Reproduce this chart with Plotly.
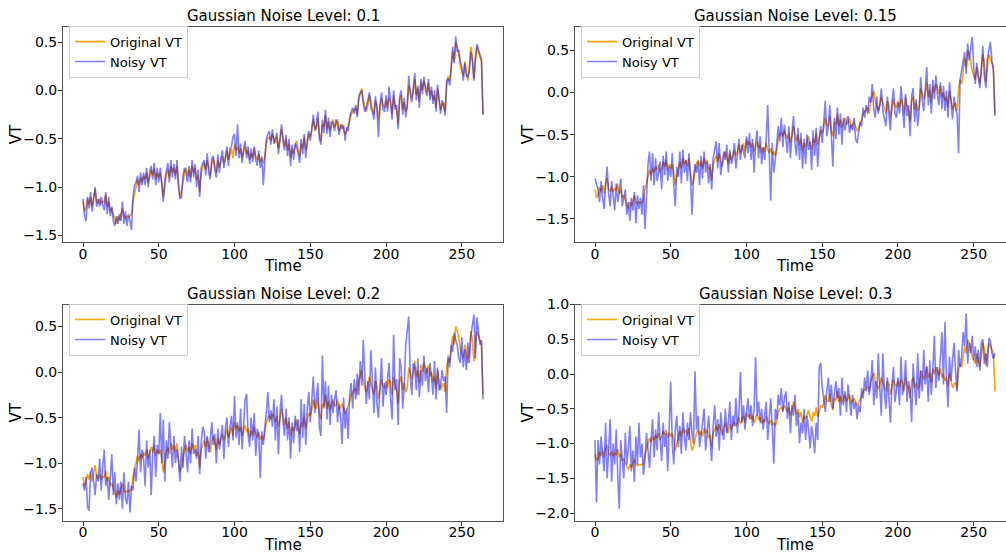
import plotly.graph_objects as go

# ---------------- data ----------------
time = list(range(265))

original_vt = [
    -1.15, -1.25, -1.22, -1.12, -1.18, -1.10, -1.20, -1.08, -1.02, -1.15,
    -1.17, -1.12, -1.18, -1.14, -1.16, -1.08, -1.20, -1.15, -1.25, -1.22,
    -1.28, -1.32, -1.38, -1.30, -1.35, -1.28, -1.22, -1.30, -1.32, -1.30,
    -1.31, -1.30, -1.28, -1.15, -1.05, -1.00, -0.92, -0.98, -0.90, -0.95,
    -0.88, -0.92, -0.85, -0.95, -0.90, -0.82, -0.88, -0.80, -0.92, -0.85,
    -0.90, -0.85, -0.95, -1.10, -1.00, -0.88, -0.82, -0.90, -0.78, -0.85,
    -0.80, -0.88, -0.78, -0.95, -1.10, -1.05, -0.92, -0.85, -0.80, -0.88,
    -0.82, -0.90, -0.78, -0.85, -0.80, -0.92, -0.88, -1.05, -0.85, -0.80,
    -0.75, -0.82, -0.72, -0.80, -0.88, -0.76, -0.70, -0.78, -0.85, -0.72,
    -0.80, -0.74, -0.68, -0.75, -0.70, -0.62, -0.72, -0.66, -0.60, -0.70,
    -0.55, -0.62, -0.58, -0.65, -0.60, -0.70, -0.64, -0.58, -0.66, -0.62,
    -0.72, -0.65, -0.70, -0.60, -0.68, -0.72, -0.66, -0.74, -0.70, -0.75,
    -0.68, -0.55, -0.50, -0.48, -0.52, -0.45, -0.50, -0.55, -0.48, -0.60,
    -0.52, -0.40, -0.48, -0.58, -0.50, -0.62, -0.55, -0.70, -0.60, -0.65,
    -0.58, -0.52, -0.62, -0.68, -0.55, -0.60, -0.48, -0.62, -0.55, -0.45,
    -0.48, -0.42, -0.30, -0.38, -0.40, -0.28, -0.45, -0.52, -0.35, -0.38,
    -0.25, -0.40, -0.32, -0.42, -0.35, -0.30, -0.38, -0.36, -0.30, -0.42,
    -0.38, -0.35, -0.40, -0.46, -0.42, -0.38, -0.32, -0.25, -0.22, -0.20,
    -0.18, -0.25, -0.10, -0.05, 0.02, -0.10, -0.18, -0.22, -0.15, -0.05,
    -0.12, -0.20, -0.25, -0.10, -0.15, -0.30, -0.20, -0.08, -0.15, -0.18,
    -0.10, -0.18, -0.08, -0.12, -0.25, -0.05, -0.15, -0.20, -0.35, -0.10,
    -0.05, -0.20, -0.12, -0.22, -0.18, 0.05, 0.00, -0.08, -0.02, 0.12,
    -0.05, 0.02, -0.12, 0.08, 0.00, 0.10, 0.05, -0.02, 0.08, -0.05,
    0.00, -0.10, -0.05, -0.18, 0.02, -0.08, -0.20, -0.15, -0.12, -0.22,
    0.05, 0.15, 0.10, 0.25, 0.40, 0.30, 0.50, 0.45, 0.38, 0.25,
    0.20, 0.15, 0.30, 0.20, 0.10, 0.25, 0.45, 0.35, 0.12, 0.30,
    0.45, 0.40, 0.35, 0.30, -0.25,
]

noisy_vt_01 = [
    -1.12, -1.30, -1.35, -1.10, -1.22, -1.05, -1.25, -1.12, -1.00, -1.20,
    -1.12, -1.20, -1.10, -1.18, -1.24, -1.05, -1.28, -1.10, -1.30, -1.20,
    -1.35, -1.40, -1.30, -1.38, -1.28, -1.35, -1.15, -1.38, -1.25, -1.40,
    -1.28, -1.35, -1.44, -1.10, -0.98, -0.95, -0.88, -1.05, -0.85, -0.98,
    -0.85, -0.98, -0.80, -1.00, -0.85, -0.78, -0.92, -0.75, -0.98, -0.80,
    -0.95, -0.80, -1.00, -1.15, -0.92, -0.85, -0.75, -0.95, -0.72, -0.90,
    -0.76, -0.92, -0.72, -1.00, -1.12, -1.10, -0.88, -0.80, -0.85, -0.95,
    -0.78, -0.95, -0.72, -0.90, -0.76, -1.00, -0.82, -1.10, -0.80, -0.75,
    -0.72, -0.88, -0.65, -0.85, -0.92, -0.70, -0.68, -0.82, -0.90, -0.66,
    -0.85, -0.70, -0.62, -0.80, -0.66, -0.58, -0.78, -0.60, -0.58, -0.48,
    -0.45, -0.68, -0.35, -0.70, -0.55, -0.75, -0.60, -0.52, -0.70, -0.58,
    -0.76, -0.60, -0.74, -0.58, -0.72, -0.78, -0.62, -0.80, -0.68, -0.98,
    -0.72, -0.50, -0.45, -0.42, -0.56, -0.40, -0.55, -0.50, -0.44, -0.66,
    -0.48, -0.35, -0.52, -0.62, -0.46, -0.68, -0.50, -0.78, -0.56, -0.72,
    -0.55, -0.58, -0.65, -0.75, -0.50, -0.66, -0.45, -0.70, -0.52, -0.42,
    -0.52, -0.38, -0.25, -0.42, -0.36, -0.22, -0.50, -0.56, -0.30, -0.44,
    -0.20, -0.45, -0.28, -0.48, -0.32, -0.34, -0.42, -0.30, -0.34, -0.46,
    -0.35, -0.40, -0.36, -0.52, -0.38, -0.42, -0.28, -0.22, -0.18, -0.24,
    -0.15, -0.28, -0.06, -0.02, 0.00, -0.14, -0.22, -0.18, -0.10, -0.02,
    -0.18, -0.22, -0.30, -0.06, -0.20, -0.48, -0.15, -0.02, -0.20, -0.22,
    -0.05, -0.22, 0.04, -0.15, -0.30, 0.00, -0.20, -0.15, -0.40, -0.06,
    0.00, -0.25, -0.08, -0.28, -0.15, 0.15, -0.04, -0.12, 0.02, 0.18,
    -0.10, 0.05, -0.18, 0.12, -0.04, 0.14, 0.00, -0.06, 0.12, -0.10,
    0.04, -0.14, 0.00, -0.22, 0.06, -0.12, -0.24, -0.10, -0.16, -0.26,
    0.10, 0.12, 0.05, 0.22, 0.45, 0.28, 0.56, 0.40, 0.42, 0.30,
    0.25, 0.10, 0.28, 0.15, 0.14, 0.20, 0.40, 0.30, 0.10, 0.34,
    0.48, 0.42, 0.38, 0.32, -0.25,
]

noisy_vt_015 = [
    -1.02, -1.08, -1.15, -1.30, -1.05, -1.25, -1.38, -1.10, -0.88, -1.20,
    -1.35, -1.05, -1.22, -1.40, -1.08, -1.30, -1.18, -1.02, -1.35, -1.25,
    -1.15, -1.45, -1.30, -1.52, -1.25, -1.40, -1.18, -1.55, -1.22, -1.38,
    -1.25, -1.45, -1.10, -1.62, -1.20, -0.85, -0.70, -1.05, -0.72, -1.10,
    -0.78, -1.05, -0.95, -0.82, -1.15, -0.75, -0.98, -0.70, -1.05, -0.88,
    -1.00, -0.72, -1.10, -1.35, -0.88, -1.00, -0.70, -1.08, -0.68, -0.95,
    -0.80, -1.05, -0.72, -1.00, -1.45, -1.02, -0.85, -0.95, -0.82, -1.10,
    -0.75, -1.02, -0.70, -0.95, -0.82, -1.08, -0.85, -1.15, -0.78, -0.65,
    -0.58, -0.90, -0.60, -0.98, -0.85, -0.70, -0.80, -0.62, -0.95, -0.68,
    -0.85, -0.78, -0.60, -0.90, -0.75, -0.55, -0.80, -0.62, -0.70, -0.78,
    -0.52, -0.72, -0.48, -0.80, -0.55, -0.95, -0.60, -0.45, -0.78, -0.52,
    -0.85, -0.65, -0.80, -0.55, -0.15, -0.90, -1.28, -0.60, -0.95, -0.80,
    -0.62, -0.40, -0.58, -0.30, -0.65, -0.38, -0.55, -0.72, -0.40, -0.78,
    -0.50, -0.28, -0.60, -0.75, -0.42, -0.80, -0.48, -0.90, -0.55, -0.85,
    -0.50, -0.68, -0.58, -0.92, -0.45, -0.75, -0.42, -0.88, -0.55, -0.40,
    -0.60, -0.35, -0.10, -0.52, -0.40, -0.15, -0.62, -0.88, -0.30, -0.55,
    -0.18, -0.50, -0.25, -0.62, -0.30, -0.45, -0.35, -0.28, -0.48, -0.38,
    -0.45, -0.30, -0.55, -0.60, -0.48, -0.35, -0.40, -0.18, -0.30, -0.15,
    -0.25, -0.05, -0.12, 0.10, -0.20, -0.30, -0.05, -0.25, -0.15, 0.05,
    -0.22, -0.30, -0.40, -0.05, -0.28, -0.45, -0.12, 0.05, -0.25, -0.30,
    -0.12, -0.25, 0.08, -0.18, -0.42, -0.02, -0.28, -0.15, -0.52, -0.05,
    0.05, -0.35, -0.08, -0.40, -0.20, 0.18, -0.10, -0.22, 0.00, 0.30,
    -0.15, 0.10, -0.25, 0.15, -0.08, 0.20, -0.02, -0.15, 0.12, -0.20,
    0.08, -0.22, 0.02, -0.30, 0.12, -0.15, -0.32, -0.05, -0.20, -0.25,
    -0.72, 0.15, 0.25, 0.35, 0.48, 0.22, 0.58, 0.38, 0.52, 0.66,
    0.30, 0.10, 0.35, 0.15, 0.05, 0.28, 0.55, 0.20, 0.05, 0.40,
    0.52, 0.60, 0.38, 0.25, -0.28,
]

noisy_vt_02 = [
    -1.22, -1.30, -1.15, -1.48, -1.52, -1.10, -1.05, -1.25, -1.35, -1.12,
    -1.20, -0.95, -1.30, -1.05, -0.85, -1.25, -1.15, -1.40, -1.10, -0.90,
    -1.35, -1.10, -1.45, -1.22, -1.40, -1.20, -1.50, -1.10, -1.38, -1.45,
    -1.20, -1.54, -1.25, -1.30, -1.05, -1.20, -0.95, -0.63, -1.10, -0.85,
    -0.95, -1.25, -0.75, -1.05, -0.85, -1.35, -0.90, -0.70, -1.15, -0.80,
    -0.90, -0.45, -1.00, -0.52, -1.20, -0.75, -0.95, -0.55, -0.80, -1.05,
    -0.70, -1.00, -0.85, -0.98, -1.20, -0.82, -1.05, -0.70, -0.88, -1.10,
    -0.75, -1.00, -0.62, -0.90, -0.85, -0.95, -0.70, -1.12, -0.78, -0.60,
    -0.65, -0.95, -0.70, -0.88, -0.75, -0.55, -0.80, -0.68, -1.00, -0.62,
    -0.85, -0.70, -0.58, -0.95, -0.62, -0.50, -0.82, -0.60, -0.48, -0.75,
    -0.26, -0.72, -0.55, -0.80, -0.40, -0.85, -0.60, -0.30, -0.24, -0.70,
    -0.82, -0.50, -0.75, -0.45, -0.92, -0.62, -0.70, -1.16, -0.65, -0.80,
    -0.60, -0.45, -0.22, -0.55, -0.42, -0.60, -0.30, -0.75, -0.38, -0.90,
    -0.45, -0.25, -0.55, -0.70, -0.40, -0.75, -0.50, -0.95, -0.55, -0.78,
    -0.48, -0.65, -0.52, -0.88, -0.30, -0.72, -0.35, -0.80, -0.40, -0.22,
    -0.55, -0.30, -0.05, -0.45, -0.30, -0.12, -0.60, -0.70, 0.18, -0.40,
    -0.10, -0.52, -0.15, -0.58, -0.25, -0.45, -0.30, -0.20, -0.55, -0.35,
    -0.50, -0.79, -0.28, -0.62, -0.40, -0.73, -0.25, -0.12, -0.40, -0.08,
    -0.30, -0.02, -0.25, 0.12, -0.15, 0.35, -0.05, -0.35, -0.10, -0.30,
    0.24, -0.18, -0.45, 0.05, -0.35, -0.50, -0.10, 0.15, -0.38, -0.12,
    -0.25, -0.05, 0.10, -0.30, -0.52, 0.41, -0.20, -0.08, -0.58, 0.15,
    0.05, -0.40, -0.15, 0.30, 0.45, 0.61, -0.05, -0.25, 0.10, 0.05,
    -0.20, 0.15, -0.28, 0.02, -0.15, 0.18, -0.10, 0.05, -0.22, 0.10,
    -0.05, -0.25, 0.12, -0.30, 0.05, -0.20, -0.15, 0.02, -0.10, -0.05,
    -0.45, 0.18, 0.05, 0.30, 0.22, 0.43, 0.35, 0.30, 0.15, 0.10,
    0.38, 0.05, 0.25, 0.02, 0.32, 0.10, 0.40, 0.55, 0.63, 0.15,
    0.60, 0.45, 0.30, 0.35, -0.30,
]

noisy_vt_03 = [
    -0.95, -1.85, -0.95, -1.30, -0.90, -1.20, -1.40, -0.70, -1.50, -1.10,
    -0.65, -1.55, -1.00, -1.30, -0.80, -1.45, -1.94, -0.95, -1.20, -1.50,
    -0.85, -1.30, -1.05, -0.75, -1.40, -1.10, -1.55, -0.90, -1.30, -0.70,
    -1.20, -1.00, -1.45, -1.25, -0.85, -1.15, -1.35, -0.95, -0.65, -1.20,
    -0.80, -1.10, -0.55, -0.95, -1.25, -0.70, -1.05, -0.85, -1.40, -0.75,
    -0.11, -1.00, -1.30, -0.80, -0.60, -1.05, -0.75, -1.15, -0.55, -0.90,
    -1.10, -0.70, -0.95, -0.55, -0.85, -1.00, 0.04, -0.80, -0.60, -1.05,
    -0.90, -0.70, -0.50, -1.10, -0.85, -0.60, -0.95, -1.25, -0.75, -0.45,
    -0.90, -0.65, -1.10, -0.55, -0.80, -0.95, -0.50, -0.85, -0.70, -0.40,
    -0.95, -0.60, -0.75, -0.35, -0.85, -0.55, 0.03, -0.70, -0.45, -0.80,
    -0.55, -0.35, -0.65, -0.45, -0.75, -0.50, 0.24, -0.60, -0.40, -0.70,
    -0.50, -0.80, -0.60, -0.40, -0.95, -0.55, -0.35, -0.75, -1.29, -0.50,
    -0.65, -0.30, -0.45, -0.20, -0.55, -0.35, -0.25, -0.65, -0.40, -0.85,
    -0.45, -0.60, -0.30, -0.75, -0.55, -1.00, -0.70, -0.85, -0.50, -0.95,
    -0.60, -0.80, -1.07, -0.75, -0.90, -1.14, -0.70, -0.95, 0.10, 0.16,
    -0.20, -0.35, -0.55, -0.25, -0.05, -0.40, -0.15, -0.50, -0.25, -0.10,
    -0.35, -0.20, -0.60, -0.05, -0.45, -0.25, -0.55, -0.15, -0.35, -0.60,
    -0.30, -0.50, -0.40, -0.65, -0.45, -0.55, -0.20, -0.35, -0.05, -0.25,
    0.05, -0.30, -0.15, 0.20, -0.45, -0.10, -0.35, 0.30, -0.20, -0.60,
    0.30, -0.25, -0.50, -0.05, -0.35, -0.70, -0.15, 0.10, -0.40, -0.20,
    -0.05, -0.45, 0.25, -0.30, -0.15, 0.20, -0.40, -0.10, -0.25, -0.69,
    0.15, -0.20, -0.45, 0.30, -0.35, 0.05, -0.25, 0.35, -0.15, 0.10,
    -0.40, 0.20, -0.30, 0.05, 0.55, -0.20, 0.10, -0.10, 0.30, 0.60,
    -0.15, 0.75, -0.05, -0.48, 0.25, -0.10, 0.20, 0.45, 0.05, -0.25,
    0.35, 0.10, 0.25, 0.60, 0.40, 0.87, 0.15, 0.45, 0.30, 0.55,
    0.20, 0.40, 0.10, 0.35, 0.05, 0.45, 0.50, 0.15, 0.30, 0.10,
    0.52, 0.48, 0.30, 0.22, 0.30,
]

noise_levels = ["0.1", "0.15", "0.2", "0.3"]
noisy_series = [noisy_vt_01, noisy_vt_015, noisy_vt_02, noisy_vt_03]
x_ticks = [0, 50, 100, 150, 200, 250]
series_names = ["Original VT", "Noisy VT"]

# ---------------- layout helpers ----------------
W, H = 1006, 558
FONT = "DejaVu Sans"

def fx(p):
    return p / W

def fy(p):
    return 1 - p / H

# pixel boxes: (left, right, top, bottom), axis ranges
panels = [
    dict(box=(63, 503, 19, 238), xr=[-13.2, 277.2], yr=[-1.564, 0.659], right_line=True, cx=283),
    dict(box=(575, 1006, 19, 238), xr=[-13.2, 271.3], yr=[-1.77, 0.78], right_line=False, cx=795),
    dict(box=(63, 503, 302, 522), xr=[-13.2, 277.2], yr=[-1.63, 0.74], right_line=True, cx=283),
    dict(box=(575, 1006, 302, 522), xr=[-13.2, 271.3], yr=[-2.11, 1.0], right_line=False, cx=795),
]

fig = go.Figure()
annotations = []
layout = dict(
    width=W, height=H,
    margin=dict(l=0, r=0, t=0, b=0, pad=0),
    paper_bgcolor="white", plot_bgcolor="white",
    font=dict(family=FONT, color="black"),
)

for i, (p, noisy, lvl) in enumerate(zip(panels, noisy_series, noise_levels)):
    n = i + 1
    xa = "x" if n == 1 else f"x{n}"
    ya = "y" if n == 1 else f"y{n}"
    lg = "legend" if n == 1 else f"legend{n}"
    l, r, t, b = p["box"]

    fig.add_trace(go.Scatter(x=time, y=original_vt, mode="lines", name=series_names[0],
                             line=dict(color="#FFA500", width=1.6), xaxis=xa, yaxis=ya,
                             legend=lg, hoverinfo="skip"))
    fig.add_trace(go.Scatter(x=time, y=noisy, mode="lines", name=series_names[1],
                             line=dict(color="rgba(0,0,255,0.5)", width=1.6), xaxis=xa, yaxis=ya,
                             legend=lg, hoverinfo="skip"))

    axkey_x = "xaxis" if n == 1 else f"xaxis{n}"
    axkey_y = "yaxis" if n == 1 else f"yaxis{n}"
    layout[axkey_x] = dict(
        domain=[fx(l), fx(r)], range=p["xr"], anchor=ya,
        tickvals=x_ticks, ticks="outside", ticklen=4, tickwidth=1, tickcolor="#333",
        ticklabelstandoff=-5,
        showline=True, linecolor="#555", linewidth=1, mirror=True,
        showgrid=False, zeroline=False,
        tickfont=dict(family=FONT, size=14, color="black"),
    )
    layout[axkey_y] = dict(
        domain=[fy(b), fy(t)], range=p["yr"], anchor=xa,
        dtick=0.5, tick0=0, tickformat=".1f", ticks="outside", ticklen=4, tickwidth=1, tickcolor="#333",
        ticklabelstandoff=-2,
        showline=True, linecolor="#555", linewidth=1, mirror=p["right_line"],
        showgrid=False, zeroline=False,
        tickfont=dict(family=FONT, size=14, color="black"),
    )
    layout[lg] = dict(
        x=fx(l + 6), y=fy(t - 1), xanchor="left", yanchor="top",
        bgcolor="rgba(255,255,255,0.85)", bordercolor="#cccccc", borderwidth=1,
        font=dict(family=FONT, size=13, color="black"),
        itemwidth=30, tracegroupgap=0,
    )
    # subplot title
    annotations.append(dict(text=f"Gaussian Noise Level: {lvl}", x=fx(p["cx"]), y=fy(t),
                            xref="paper", yref="paper", xanchor="center", yanchor="bottom",
                            showarrow=False, font=dict(family=FONT, size=15, color="black")))
    # axis titles
    annotations.append(dict(text="Time", x=fx(p["cx"]), y=fy(b + 14),
                            xref="paper", yref="paper", xanchor="center", yanchor="top",
                            showarrow=False, font=dict(family=FONT, size=15, color="black")))
    annotations.append(dict(text="VT", x=fx(l - 47), y=fy((t + b) / 2),
                            xref="paper", yref="paper", xanchor="center", yanchor="middle",
                            textangle=-90, showarrow=False,
                            font=dict(family=FONT, size=15, color="black")))

layout["annotations"] = annotations
fig.update_layout(**layout)

fig.write_html("out.html")
